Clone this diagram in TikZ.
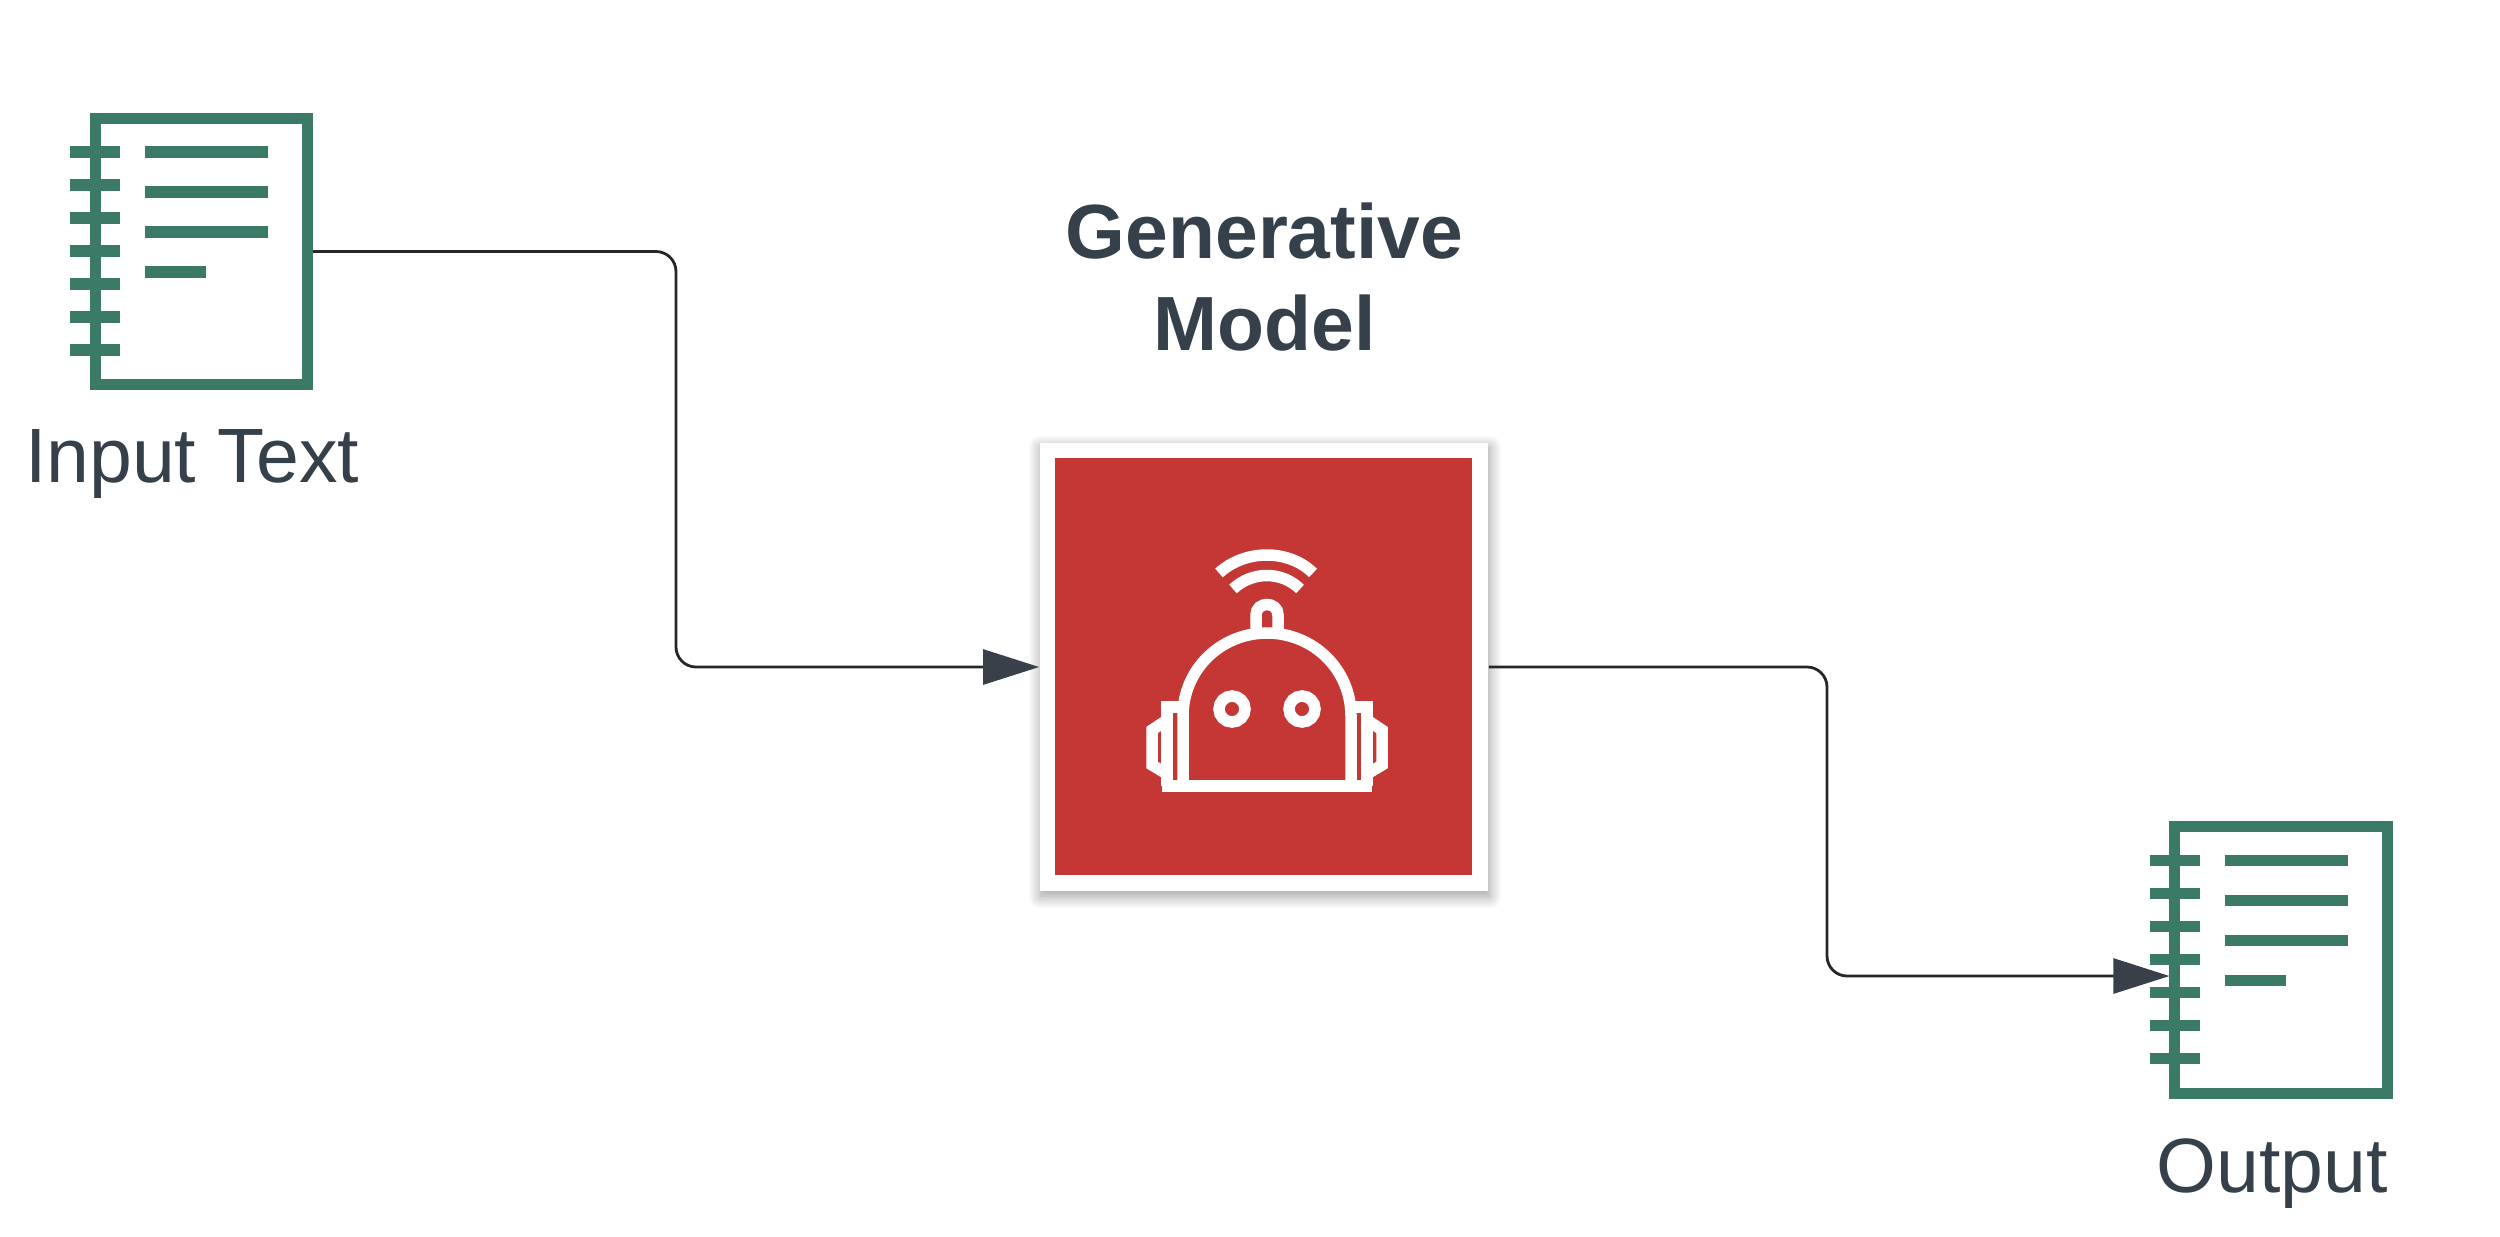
\documentclass[tikz,border=0pt]{standalone}
\usepackage{fontspec}
\setmainfont{Liberation Sans}
\usetikzlibrary{positioning,arrows.meta,calc,shadows.blur}

\definecolor{notegreen}{HTML}{3A7A66}
\definecolor{modelred}{HTML}{C43735}
\definecolor{inkgray}{HTML}{36404A}
\definecolor{tipgray}{HTML}{3A4049}

\begin{document}
\begin{tikzpicture}[
  x=0.01cm, y=-0.01cm,
  notebox/.style={draw=notegreen, fill=white, line width=0.11cm, minimum width=2.12cm, minimum height=2.66cm, inner sep=0pt},
  noteline/.style={draw=notegreen, line width=0.115cm},
  modelbox/.style={fill=white, minimum size=4.48cm, inner sep=0pt, blur shadow={shadow xshift=0.01cm, shadow yshift=-0.05cm, shadow blur radius=0.13cm, shadow blur steps=14, shadow opacity=40}},
  modelface/.style={fill=modelred, minimum size=4.16cm, inner sep=0pt},
  botline/.style={draw=white, line width=0.115cm, line join=miter},
  lbl/.style={text=inkgray, anchor=base, inner sep=0pt, font=\fontsize{21.9}{26}\selectfont},
  title/.style={text=inkgray, align=center, inner sep=0pt, font=\fontsize{21.85}{25.9}\selectfont\bfseries},
  link/.style={draw=black!85, line width=0.028cm, rounded corners=0.2cm, -{Triangle[length=0.56cm,width=0.35cm,color=tipgray]}}
]
  \useasboundingbox (0,0) rectangle (2500,1236);

  % Notebooks
  \node[notebox] (input) at (201.5,251.5) {};
  \node[notebox] (output) at (2281,960) {};
  \foreach \doc in {input,output} {
    \foreach \i in {0,...,6}
      \draw[noteline] ([shift={(-131.5,-99.5+33*\i)}]\doc.center) -- ++(50,0);
    \foreach \i in {0,1,2}
      \draw[noteline] ([shift={(-56.5,-99.5+40*\i)}]\doc.center) -- ++(123,0);
    \draw[noteline] ([shift={(-56.5,20.5)}]\doc.center) -- ++(61,0);
  }

  % Model
  \node[modelbox] (model) at (1264,667) {};
  \node[modelface] (face) at (1263.5,666.5) {};

  % Robot
  \draw[botline] (1183,786) -- (1183,716) .. controls (1183,669.6) and (1220.6,633) .. (1267,633)
    .. controls (1313.4,633) and (1351,669.6) .. (1351,716) -- (1351,786);
  \draw[botline] (1162,786) -- (1372,786);
  \draw[botline] (1183,707) -- (1167,707) -- (1167,786);
  \draw[botline] (1351,707) -- (1367,707) -- (1367,786);
  \draw[botline] (1167,720) -- (1152,730) -- (1152,765) -- (1167,774);
  \draw[botline] (1367,720) -- (1382,730) -- (1382,765) -- (1367,774);
  \draw[botline] (1256,630) -- (1256,615) .. controls (1256,601) and (1278,601) .. (1278,615) -- (1278,630);
  \draw[botline] (1219,573) .. controls (1245,549) and (1289,549) .. (1313,573);
  \draw[botline] (1233,589) .. controls (1252,571) and (1282,571) .. (1300,589);
  \draw[botline] (1232,709) circle (13);
  \draw[botline] (1302,709) circle (13);

  % Labels
  \node[lbl] (inputlbl) at (192,482) {Input Text};
  \node[lbl] (outputlbl) at (2272,1192) {Output};
  \node[title] (modellbl) at (1264.5,277) {Generative\\Model};

  % Connectors
  \draw[link] (input.east) -- (676,251.5) -- (676,667) -- (model.west);
  \draw[link] (model.east) -- (1827,667) -- (1827,976) -- ([yshift=-0.16cm]output.west);
\end{tikzpicture}
\end{document}
